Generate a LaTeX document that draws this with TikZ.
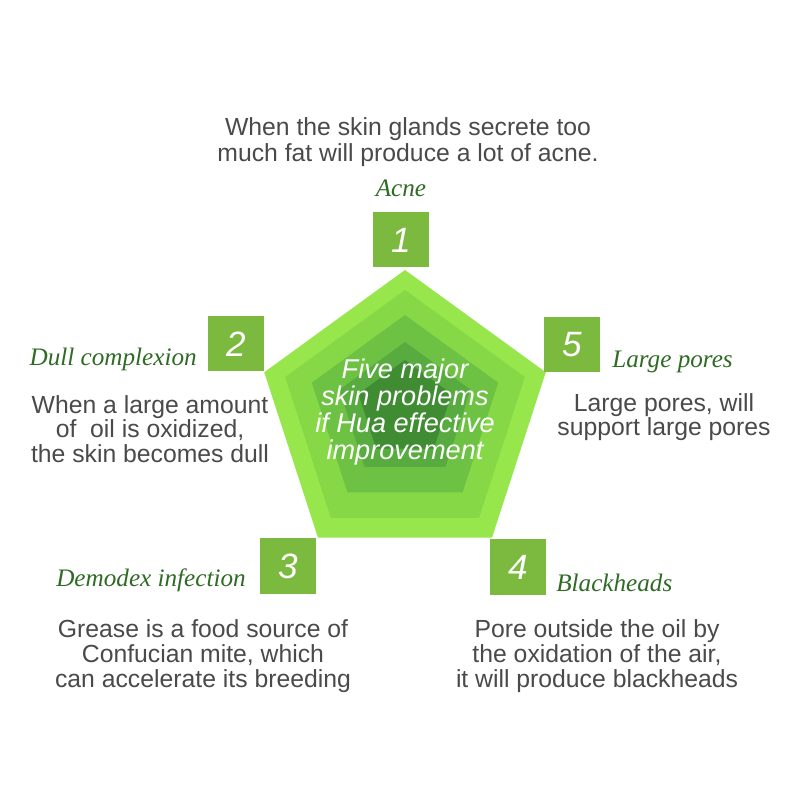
\documentclass[tikz,border=0pt]{standalone}
\usepackage{fontspec}
\setmainfont{Liberation Serif}
\setsansfont{Liberation Sans}
\usepackage{xcolor}
\usetikzlibrary{positioning}

\definecolor{boxgreen}{HTML}{7BBA3E}
\definecolor{taggreen}{HTML}{2F6B25}
\definecolor{bodygray}{HTML}{4A4A4A}
\definecolor{layerA}{HTML}{96E64C}
\definecolor{layerB}{HTML}{86D846}
\definecolor{layerC}{HTML}{6EC243}
\definecolor{layerD}{HTML}{58AC3F}
\definecolor{layerE}{HTML}{3F8C33}

\begin{document}
\begin{tikzpicture}[
    x=0.025cm, y=0.025cm,
    numbox/.style={rectangle, fill=boxgreen, minimum width=1.4cm, minimum height=1.375cm, inner sep=0pt, text=white, font=\sffamily\itshape\fontsize{25}{25}\selectfont},
    tag/.style={inner sep=0pt, text=taggreen, font=\itshape\fontsize{17.9}{20}\selectfont},
    body/.style={inner sep=0pt, align=center, text=bodygray, font=\sffamily\fontsize{17.6}{17.5}\selectfont},
    centertext/.style={inner sep=0pt, align=center, text=white, font=\sffamily\itshape\fontsize{19.3}{19.4}\selectfont}
]
    \useasboundingbox (0,0) rectangle (800,800);
    \fill[white] (0,0) rectangle (800,800);

    % Pentagon layers
    \foreach \r/\cy/\col in {148/382/layerA, 126/384/layerB, 98/387/layerC, 69/389/layerD, 49/391/layerE}
        \fill[\col] (405,\cy) +(90:\r) -- +(162:\r) -- +(234:\r) -- +(306:\r) -- +(18:\r) -- cycle;
    \node[centertext] (title) at (405,388) {Five major\\skin problems\\if Hua effective\\improvement};

    % Number boxes
    \node[numbox] (n1) at (401,560) {1};
    \node[numbox] (n2) at (236,456) {2};
    \node[numbox] (n5) at (572,455) {5};
    \node[numbox] (n3) at (288,234) {3};
    \node[numbox] (n4) at (518,233) {4};

    % Tags
    \node[tag, above=0.38cm of n1] (acne) {Acne};
    \node[tag, anchor=base east] (dull) at (197,434) {Dull complexion};
    \node[tag, anchor=base west] (pores) at (612,432) {Large pores};
    \node[tag, anchor=base east] (demodex) at (246,213) {Demodex infection};
    \node[tag, anchor=base west] (black) at (556,208) {Blackheads};

    % Texts
    \node[body, font=\sffamily\fontsize{17.6}{19}\selectfont] (acnetxt) at (408,658) {When the skin glands secrete too\\much fat will produce a lot of acne.};
    \node[body] (dulltxt) at (150,371) {When a large amount\\of\ \ oil is oxidized,\\the skin becomes dull};
    \node[body] (porestxt) at (664,383) {Large pores, will\\support large pores};
    \node[body] (demodextxt) at (203,144) {Grease is a food source of\\Confucian mite, which\\can accelerate its breeding};
    \node[body] (blacktxt) at (597,144) {Pore outside the oil by\\the oxidation of the air,\\it will produce blackheads};
\end{tikzpicture}
\end{document}
